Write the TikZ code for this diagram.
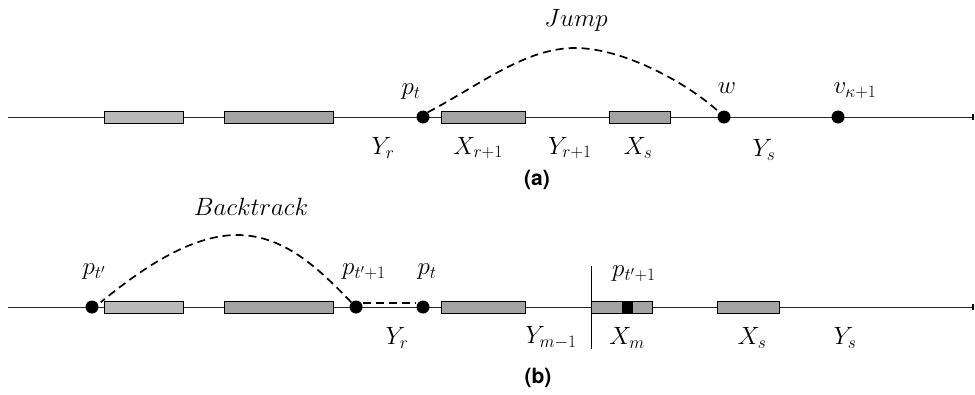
\RequirePackage{fix-cm}
\documentclass[tikz,border=0pt]{standalone}
\usepackage{fontspec}
\newfontfamily\heros{TeX Gyre Heros}
\begin{document}
\begin{tikzpicture}[x=1pt,y=-1pt,
  axis/.style={line width=0.9pt,draw=black!85},
  dot/.style={circle,fill=black,inner sep=0pt,minimum size=13pt},
  seglight/.style={rectangle,draw=black,line width=1pt,fill=gray!55,inner sep=0pt,minimum height=12pt},
  segdark/.style={rectangle,draw=black,line width=1pt,fill=gray!72,inner sep=0pt,minimum height=12pt},
  blk/.style={rectangle,fill=black,inner sep=0pt,minimum height=12pt,minimum width=11pt},
  lbl/.style={inner sep=0pt,font=\fontsize{25}{30}\selectfont},
  subcap/.style={inner sep=0pt,font=\heros\bfseries\fontsize{21}{25}\selectfont},
  jumpline/.style={line width=1.7pt,dash pattern=on 8pt off 5pt}
]
\useasboundingbox (0,0) rectangle (975,394);
% ---------------- (a) ----------------
\coordinate (aL) at (8,117);
\coordinate (aR) at (974,117);
\draw[axis] (aL) -- (aR);
\draw[line width=1.5pt] (973,114) -- (973,120);
\node[seglight,minimum width=79pt] (a1) at (143.5,117) {};
\node[segdark,minimum width=109pt] (a2) at (278.5,117) {};
\node[segdark,minimum width=84pt] (a3) at (483,117) {};
\node[segdark,minimum width=61pt] (a4) at (639.5,117) {};
\node[dot] (apt) at (423,117) {};
\node[dot] (aw) at (724,117) {};
\node[dot] (av) at (838,117) {};
\draw[jumpline] (apt.north east) .. controls (480,85) and (525,48) .. (575,48)
  .. controls (625,48) and (690,85) .. (aw.north west);
\node[lbl] (lJump) at (576,20) {$Jump$};
\node[lbl] (lpt) at (411,92) {$p_t$};
\node[lbl] (lw) at (727,88) {$w$};
\node[lbl] (lv) at (855,91) {$v_{\kappa+1}$};
\node[lbl] (lYr) at (383,148) {$Y_r$};
\node[lbl] (lX1) at (478,148) {$X_{r+1}$};
\node[lbl] (lY1) at (570,148) {$Y_{r+1}$};
\node[lbl] (lXs) at (638,148) {$X_s$};
\node[lbl] (lYs) at (764,150) {$Y_s$};
\node[subcap] (capa) at (537,180) {(a)};
% ---------------- (b) ----------------
\coordinate (bL) at (8,307);
\coordinate (bR) at (974,307);
\draw[axis] (bL) -- (bR);
\draw[line width=1.5pt] (973,304) -- (973,310);
\node[seglight,minimum width=79pt] (b1) at (143.5,307) {};
\node[segdark,minimum width=109pt] (b2) at (278.5,307) {};
\node[segdark,minimum width=84pt] (b3) at (483,307) {};
\node[segdark,minimum width=61pt] (bXm) at (621.5,307) {};
\node[blk] (bblk) at (627.5,307) {};
\node[segdark,minimum width=62pt] (bXs) at (748,307) {};
\node[dot] (bpt1) at (92,307) {};
\node[dot] (bpt2) at (356,307) {};
\node[dot] (bpt) at (423,307) {};
\coordinate (vtop) at (591,266);
\coordinate (vbot) at (591,349);
\draw[line width=0.9pt] (vtop) -- (vbot);
\draw[jumpline] (bpt2.north west) .. controls (320,270) and (285,235) .. (237,235)
  .. controls (190,235) and (140,270) .. ([xshift=4pt]bpt1.north east);
\draw[jumpline] ([yshift=4pt]bpt2.east) -- ([yshift=4pt]bpt.west);
\node[lbl] (lBack) at (251,207) {$Backtrack$};
\node[lbl] (lpt1) at (94,272) {$p_{t'}$};
\node[lbl] (lpt2) at (364,272) {$p_{t'+1}$};
\node[lbl] (lptb) at (427,272) {$p_t$};
\node[lbl] (lpt3) at (634,274) {$p_{t'+1}$};
\node[lbl] (lYrb) at (397,338) {$Y_r$};
\node[lbl] (lYm) at (551,338) {$Y_{m-1}$};
\node[lbl] (lXm) at (627,338) {$X_m$};
\node[lbl] (lXsb) at (752,338) {$X_s$};
\node[lbl] (lYsb) at (845,338) {$Y_s$};
\node[subcap] (capb) at (538,378) {(b)};
\end{tikzpicture}
\end{document}
